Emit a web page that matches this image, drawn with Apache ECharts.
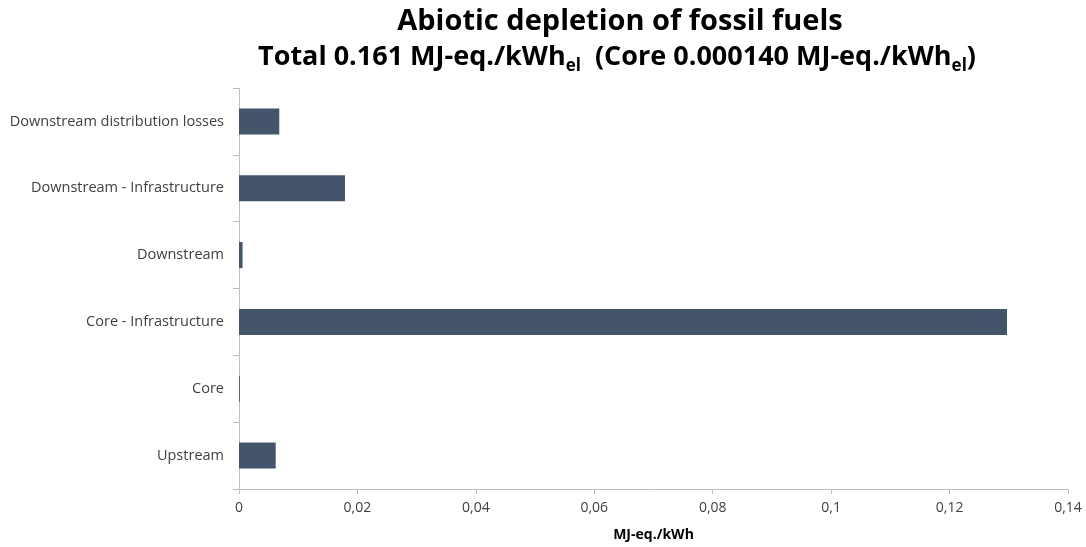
<!DOCTYPE html>
<html>
<head>
<meta charset="utf-8">
<script src="https://cdn.jsdelivr.net/npm/echarts@6/dist/echarts.min.js"></script>
<style>
  html, body { margin: 0; padding: 0; background: #fff; }
  #chart { width: 1086px; height: 547px; }
</style>
</head>
<body>
<div id="chart"></div>
<script>
// Life-cycle stages, listed bottom to top as drawn on the category axis
const stages = [
  'Upstream',
  'Core',
  'Core - Infrastructure',
  'Downstream',
  'Downstream - Infrastructure',
  'Downstream distribution losses'
];
// Abiotic depletion of fossil fuels per stage, MJ-eq./kWh
const depletion = [0.0062, 0.00014, 0.1297, 0.0006, 0.0179, 0.0068];
// Value-axis ticks
const xTicks = { min: 0, max: 0.14, interval: 0.02 };

const FONT = '"Open Sans", "Liberation Sans", Arial, sans-serif';
const chart = echarts.init(document.getElementById('chart'));

chart.setOption({
  backgroundColor: '#ffffff',
  animation: false,
  title: [
    {
      text: 'Abiotic depletion of fossil fuels',
      left: 615, top: 2, textAlign: 'center',
      textStyle: { fontFamily: FONT, fontSize: 29, fontWeight: 'bold', color: '#000' }
    },
    {
      text: '{t|Total 0.161 MJ-eq./kWh}{s|el}{t|  (Core 0.000140 MJ-eq./kWh}{s|el}{t|)}',
      left: 612, top: 34, textAlign: 'center',
      textStyle: {
        fontFamily: FONT,
        rich: {
          t: { fontFamily: FONT, fontSize: 27, fontWeight: 'bold', color: '#000', lineHeight: 36 },
          s: { fontFamily: FONT, fontSize: 17, fontWeight: 'bold', color: '#000', lineHeight: 36, verticalAlign: 'bottom' }
        }
      }
    }
  ],
  grid: { left: 239, right: 18, top: 88, bottom: 58, containLabel: false },
  xAxis: {
    type: 'value',
    min: xTicks.min, max: xTicks.max, interval: xTicks.interval,
    name: 'MJ-eq./kWh',
    nameLocation: 'middle',
    nameGap: 39,
    nameTextStyle: { fontFamily: FONT, fontSize: 14, fontWeight: 'bold', color: '#000' },
    axisLine: { show: true, lineStyle: { color: '#bfbfbf', width: 1 } },
    axisTick: { show: true, length: 5, lineStyle: { color: '#bfbfbf' } },
    splitLine: { show: false },
    axisLabel: {
      fontFamily: FONT, fontSize: 14, color: '#404040', margin: 12,
      formatter: v => String(+v.toFixed(2)).replace('.', ',')
    }
  },
  yAxis: {
    type: 'category',
    data: stages,
    axisLine: { show: true, lineStyle: { color: '#bfbfbf', width: 1 } },
    axisTick: { show: true, length: 6, alignWithLabel: false, lineStyle: { color: '#bfbfbf' } },
    axisLabel: { fontFamily: FONT, fontSize: 14.5, color: '#404040', margin: 15 }
  },
  series: [{
    type: 'bar',
    data: depletion,
    barCategoryGap: '61%',
    itemStyle: { color: '#44546a' }
  }]
});
</script>
</body>
</html>
